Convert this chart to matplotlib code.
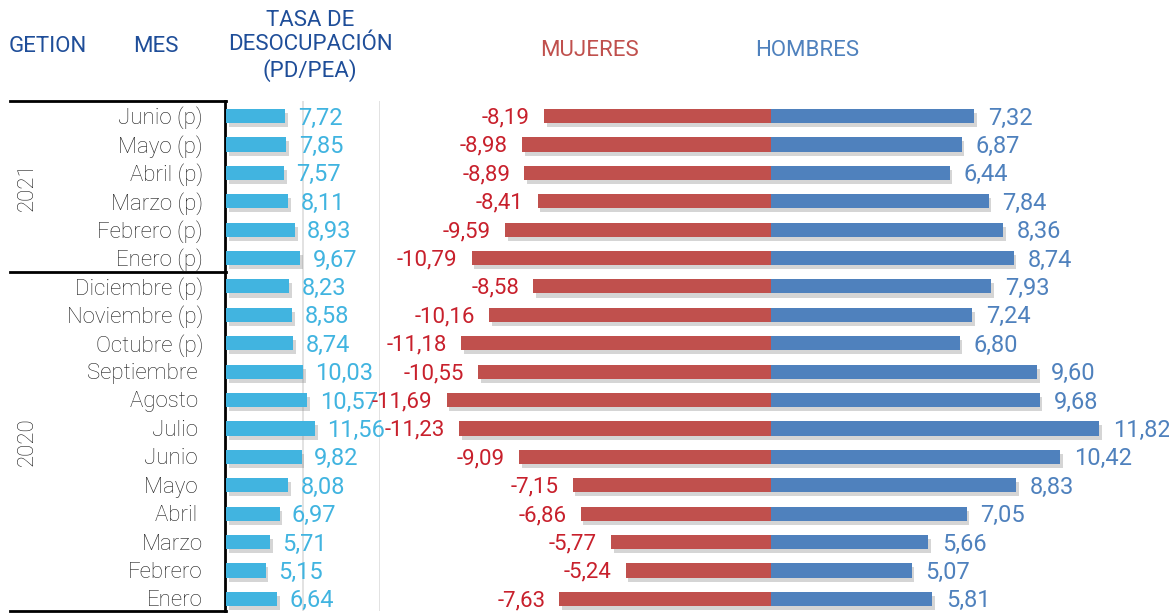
import numpy as np
import matplotlib
matplotlib.use("Agg")
import matplotlib.pyplot as plt
import matplotlib.patheffects as pe
from matplotlib.lines import Line2D

plt.rcParams['font.family'] = ['Roboto', 'DejaVu Sans']

# data, top row first
meses = ['Junio (p)', 'Mayo (p)', 'Abril (p)', 'Marzo (p)', 'Febrero (p)', 'Enero (p)',
         'Diciembre (p)', 'Noviembre (p)', 'Octubre (p)', 'Septiembre ', 'Agosto ',
         'Julio ', 'Junio ', 'Mayo ', 'Abril ', 'Marzo', 'Febrero', 'Enero']
gestiones = ['2021', '2020']
filas_gestion = [6, 12]
tasa = [7.72, 7.85, 7.57, 8.11, 8.93, 9.67, 8.23, 8.58, 8.74, 10.03, 10.57, 11.56,
        9.82, 8.08, 6.97, 5.71, 5.15, 6.64]
mujeres = [-8.19, -8.98, -8.89, -8.41, -9.59, -10.79, -8.58, -10.16, -11.18, -10.55,
           -11.69, -11.23, -9.09, -7.15, -6.86, -5.77, -5.24, -7.63]
hombres = [7.32, 6.87, 6.44, 7.84, 8.36, 8.74, 7.93, 7.24, 6.80, 9.60, 9.68, 11.82,
           10.42, 8.83, 7.05, 5.66, 5.07, 5.81]

W, H = 1169, 613
c_tasa = '#41B4E0'
c_muj = '#C0504D'
c_muj_txt = '#C8202C'
c_hom = '#4F81BD'
c_head = '#1F4E99'
c_mes = '#1E1E1E'

fig = plt.figure(figsize=(W / 100, H / 100), dpi=100)

def px_axes(x0, x1, y0, y1):
    return fig.add_axes([x0 / W, 1 - y1 / H, (x1 - x0) / W, (y1 - y0) / H])

n = len(meses)
y = np.arange(n)
row0, step = 116, 28.4
ytop, ybot = 101, 611
ylim = ((ybot - row0) / step, (ytop - row0) / step)
dy = 2  # text nudge down, px
dyr = dy / step

shadow = [pe.SimplePatchShadow(offset=(2, -3), shadow_rgbFace='#888888', alpha=0.35), pe.Normal()]

# background axes in pixel coords for table text and lines
bg = fig.add_axes([0, 0, 1, 1])
bg.set_xlim(0, W)
bg.set_ylim(H, 0)
bg.axis('off')

fs_head = 16
bg.text(48, 47, 'GETION', color=c_head, fontsize=fs_head, ha='center', va='center')
bg.text(156, 47, 'MES', color=c_head, fontsize=fs_head, ha='center', va='center')
bg.text(310, 46, 'TASA DE\nDESOCUPACIÓN\n(PD/PEA)', color=c_head, fontsize=fs_head,
        ha='center', va='center', linespacing=1.2)
bg.text(589, 51, 'MUJERES', color=c_muj, fontsize=fs_head, ha='center', va='center')
bg.text(807, 50, 'HOMBRES', color=c_hom, fontsize=fs_head, ha='center', va='center')

for i, m in enumerate(meses):
    bg.text(203, row0 + step * i + dy, m, color=c_mes, fontsize=16, fontweight='light',
            ha='right', va='center')

# table lines
start = 0
ylines = [ytop]
for g, k in zip(gestiones, filas_gestion):
    y_a = ytop if start == 0 else row0 + step * (start - 0.5)
    y_b = ybot if start + k == n else row0 + step * (start + k - 0.5)
    bg.text(27, (y_a + y_b) / 2, g, color=c_mes, fontsize=16, fontweight='light',
            rotation=90, ha='center', va='center')
    ylines.append(y_b)
    start += k
for yl in ylines:
    bg.add_line(Line2D([10, 226], [yl, yl], color='black', lw=2))
bg.add_line(Line2D([225, 225], [ytop, ybot], color='black', lw=2))

# small bars: tasa de desocupacion
ax1 = px_axes(226, 380, ytop, ybot)
ax1.barh(y, tasa, height=0.5, color=c_tasa, path_effects=shadow, zorder=3)
ax1.set_xlim(0, 20)
ax1.set_ylim(*ylim)
for v in [10, 20]:
    ax1.axvline(v, color='#DDDDDD', lw=1.2, zorder=1)
for i, v in enumerate(tasa):
    ax1.text(v + 1.6, i + dyr, f'{v:.2f}'.replace('.', ','), color=c_tasa, fontsize=17,
             ha='left', va='center', zorder=4)
ax1.axis('off')

# butterfly
ax2 = px_axes(400, W, ytop, ybot)
c0 = 771
sc = 27.75
ax2.set_xlim((400 - c0) / sc, (W - c0) / sc)
ax2.set_ylim(*ylim)
ax2.barh(y, mujeres, height=0.5, color=c_muj, path_effects=shadow, zorder=3)
ax2.barh(y, hombres, height=0.5, color=c_hom, path_effects=shadow, zorder=3)
for i, (m, h) in enumerate(zip(mujeres, hombres)):
    ax2.text(m - 0.5, i + dyr, f'{m:.2f}'.replace('.', ','), color=c_muj_txt, fontsize=16,
             ha='right', va='center')
    ax2.text(h + 0.5, i + dyr, f'{h:.2f}'.replace('.', ','), color=c_hom, fontsize=17,
             ha='left', va='center')
ax2.axis('off')

fig.savefig('out.png', dpi=100)
